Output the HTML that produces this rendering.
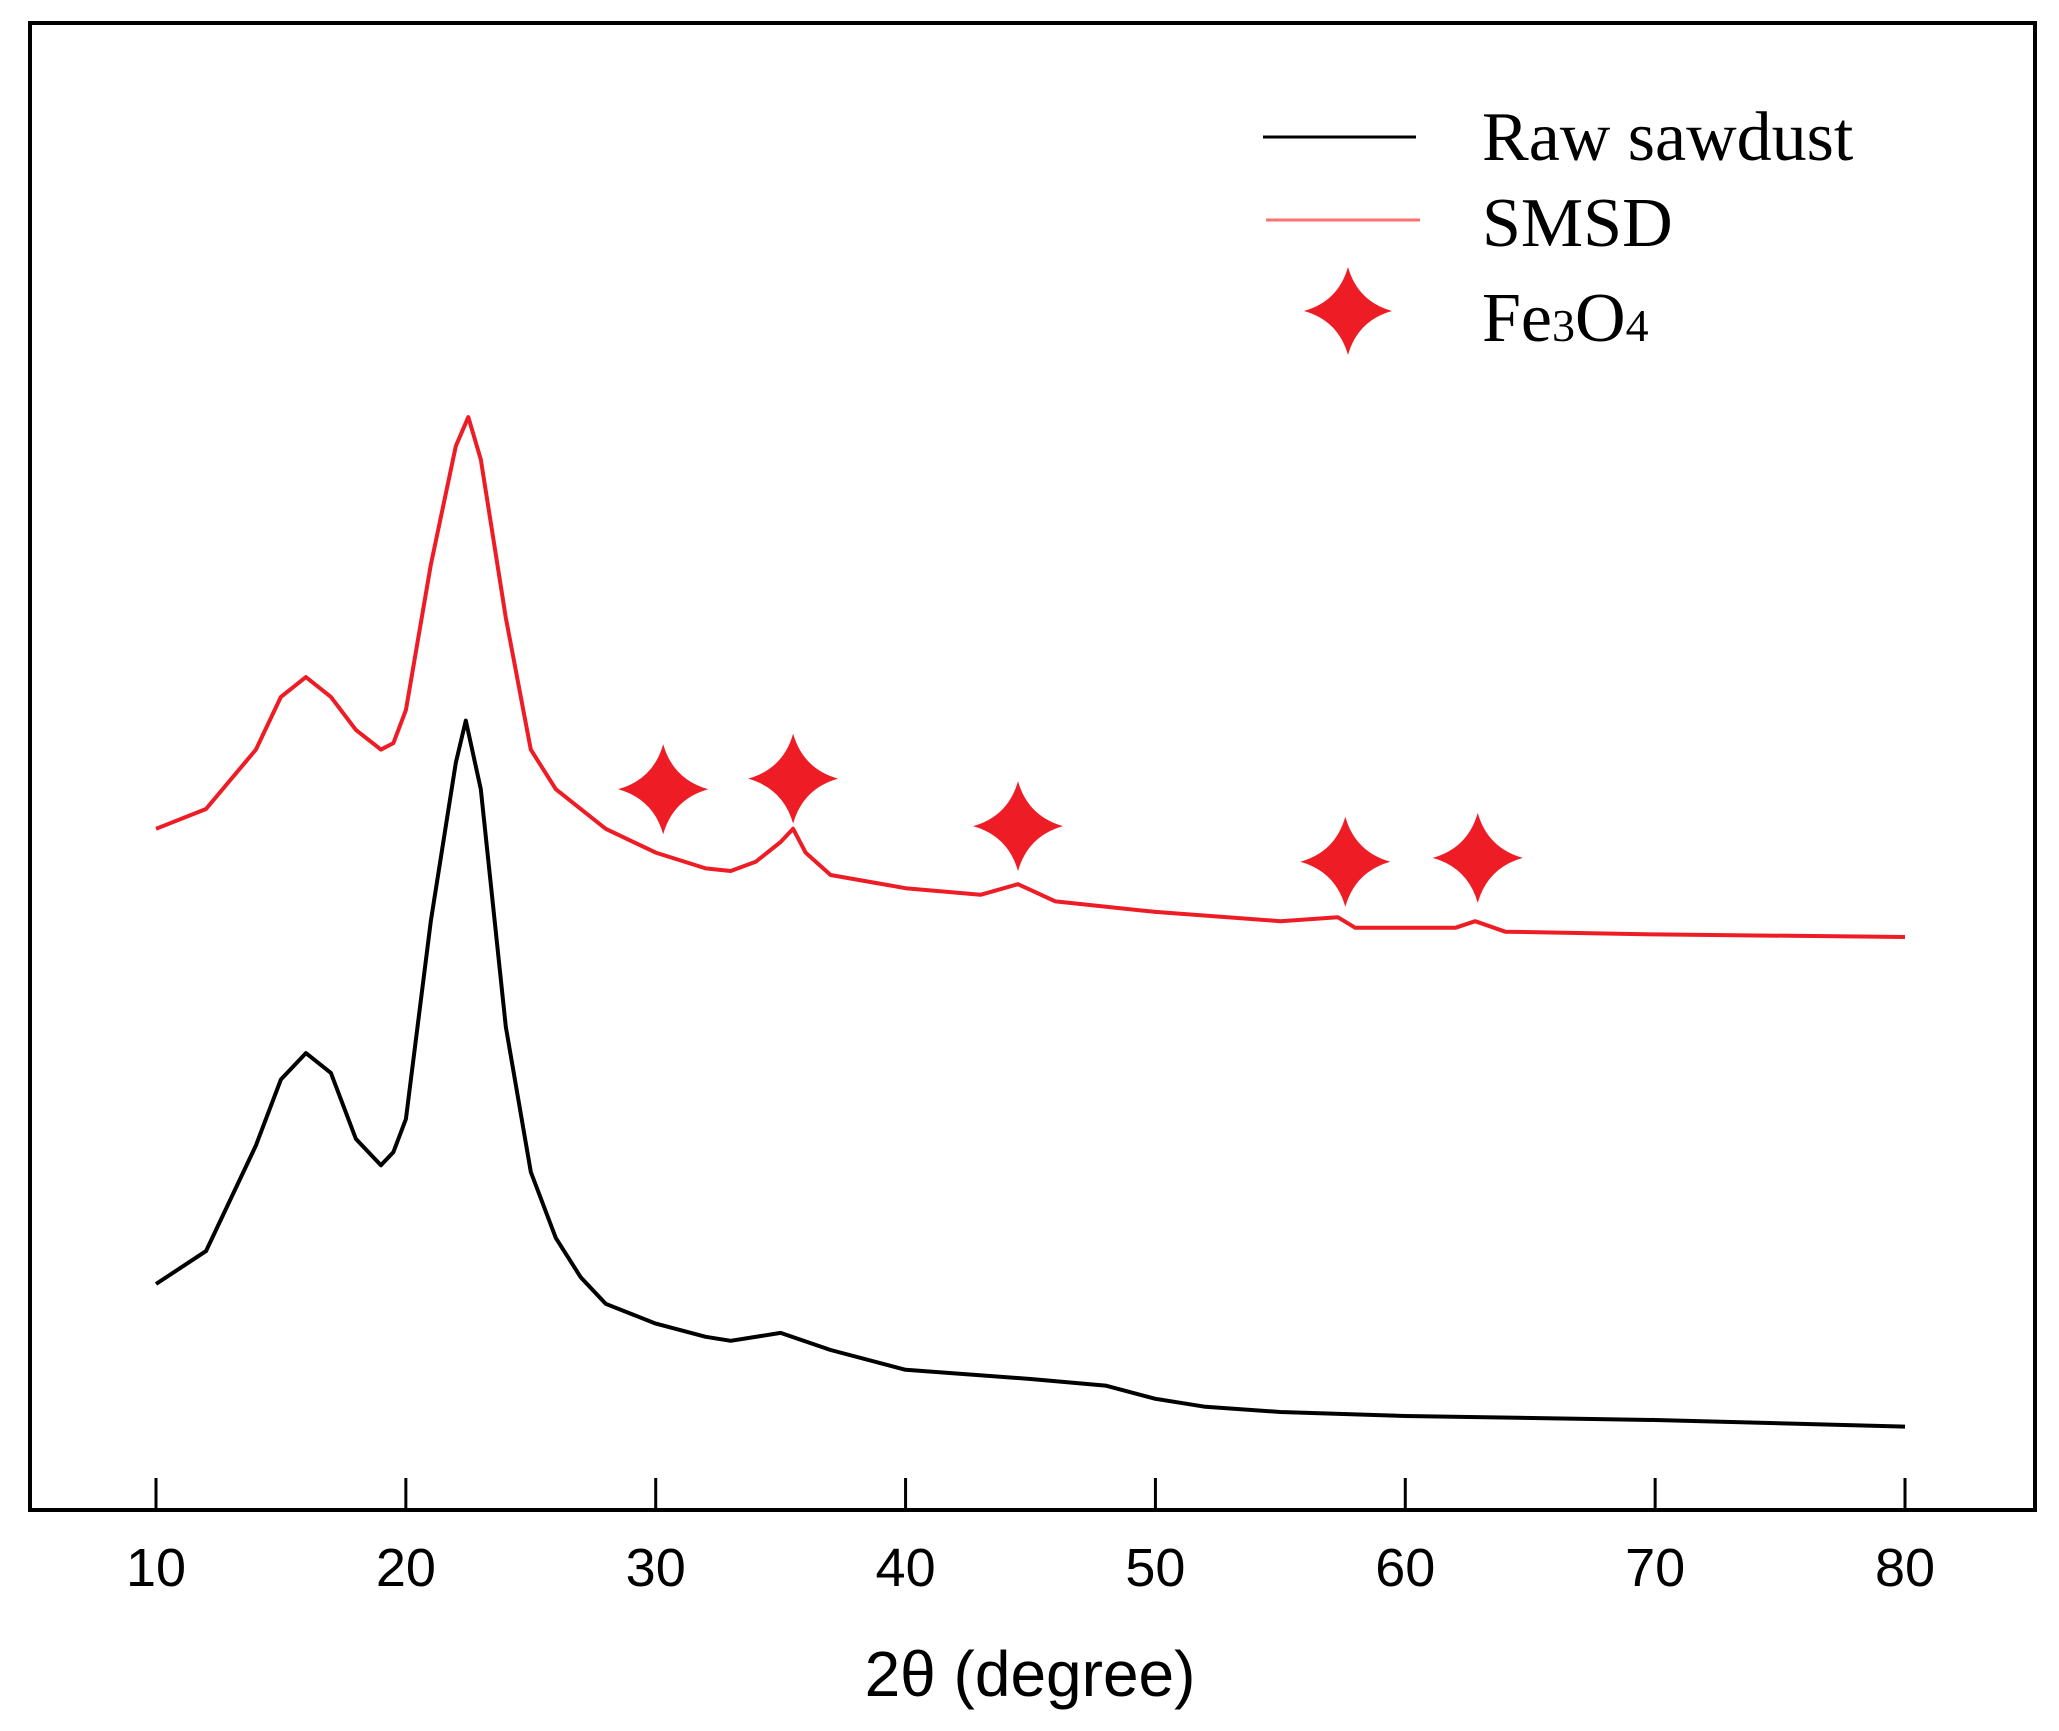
<!DOCTYPE html>
<html><head><meta charset="utf-8"><style>
html,body{margin:0;padding:0;background:#fff;}
svg{display:block;}
</style></head><body>
<svg id="chart" width="2059" height="1731" viewBox="0 0 2059 1731" xmlns="http://www.w3.org/2000/svg">
<rect x="0" y="0" width="2059" height="1731" fill="#fff"/>
<rect x="30" y="23" width="2005" height="1487" fill="none" stroke="#000" stroke-width="4"/>
<g id="xticks"></g>
<g id="series"></g>
<g id="stars"></g>
<text x="1030" y="1696" font-family="'Liberation Sans',sans-serif" font-size="64" text-anchor="middle">2θ (degree)</text>
<g>
  <line x1="1263" y1="137" x2="1416" y2="137" stroke="#000" stroke-width="3"/>
  <text x="1482" y="160" font-family="'Liberation Serif',serif" font-size="70">Raw sawdust</text>
  <line x1="1266" y1="220" x2="1420" y2="220" stroke="#ff7070" stroke-width="3"/>
  <text x="1482" y="246" font-family="'Liberation Serif',serif" font-size="70">SMSD</text>
  <path id="legendStar" fill="#ee1c25"/>
  <text x="1482" y="341" font-family="'Liberation Serif',serif" font-size="70">Fe<tspan font-size="46">3</tspan>O<tspan font-size="46">4</tspan></text>
</g>
</svg>
<script>
const xTicks = [10,20,30,40,50,60,70,80];
const rawX = [10,12,14,15,16,17,18,19,19.5,20,21,22,22.4,23,24,25,26,27,28,30,32,33,35,37,40,45,48,50,52,55,60,70,80];
const rawY = [172,197,277,327,347,332,282,262,272,297,447,567,599,547,367,257,207,177,157,142,132,129,135,122,107,100,95,85,79,75,72,69,64];
const smsdX = [10,12,14,15,16,17,18,19,19.5,20,21,22,22.5,23,24,25,26,28,30,32,33,34,35,35.5,36,37,40,43,44.5,46,50,55,57.3,58,62,62.8,64,70,80];
const smsdY = [517,532,577,617,632,617,592,577,582,607,717,807,829,797,677,577,547,517,499,487,485,492,507,517,499,482,472,467,475,462,454,447,450,442,442,447,439,437,435];
const starX = [30.3,35.5,44.5,57.6,62.9];
const starY = [547,555,519,492,495];

const NS='http://www.w3.org/2000/svg';
const sx = v => 156 + (v-10)*(1905-156)/70;
const sy = v => 1511 - v*1.3195;

const xt = document.getElementById('xticks');
xTicks.forEach(t=>{
  const l=document.createElementNS(NS,'line');
  l.setAttribute('x1',sx(t));l.setAttribute('x2',sx(t));
  l.setAttribute('y1',1478);l.setAttribute('y2',1510);
  l.setAttribute('stroke','#000');l.setAttribute('stroke-width','3');
  
  
  xt.appendChild(l);
  const tx=document.createElementNS(NS,'text');
  tx.setAttribute('x',sx(t));tx.setAttribute('y',1586);
  tx.setAttribute('text-anchor','middle');
  tx.setAttribute('font-family',"'Liberation Sans',sans-serif");
  tx.setAttribute('font-size','54');
  tx.textContent=t;
  
  
  xt.appendChild(tx);
});

function line(xs,ys,color,name){
  const p=document.createElementNS(NS,'path');
  p.setAttribute('d',xs.map((x,i)=>(i?'L':'M')+sx(x).toFixed(1)+' '+sy(ys[i]).toFixed(1)).join(' '));
  p.setAttribute('fill','none');p.setAttribute('stroke',color);
  p.setAttribute('stroke-width','4');p.setAttribute('stroke-linejoin','round');
  
  
  document.getElementById('series').appendChild(p);
}
line(rawX,rawY,'#000','raw-sawdust-line');
line(smsdX,smsdY,'#ee1c25','smsd-line');

function starPath(cx,cy,r){
  const c=r*0.22;
  return `M${cx} ${cy-r} Q${cx+c} ${cy-c} ${cx+r} ${cy} Q${cx+c} ${cy+c} ${cx} ${cy+r} Q${cx-c} ${cy+c} ${cx-r} ${cy} Q${cx-c} ${cy-c} ${cx} ${cy-r} Z`;
}
const sg=document.getElementById('stars');
starX.forEach((x,i)=>{
  const p=document.createElementNS(NS,'path');
  p.setAttribute('d',starPath(sx(x),sy(starY[i]),45));
  p.setAttribute('fill','#ee1c25');
  
  
  sg.appendChild(p);
});
document.getElementById('legendStar').setAttribute('d',starPath(1348,311,44));
</script>
</body></html>
